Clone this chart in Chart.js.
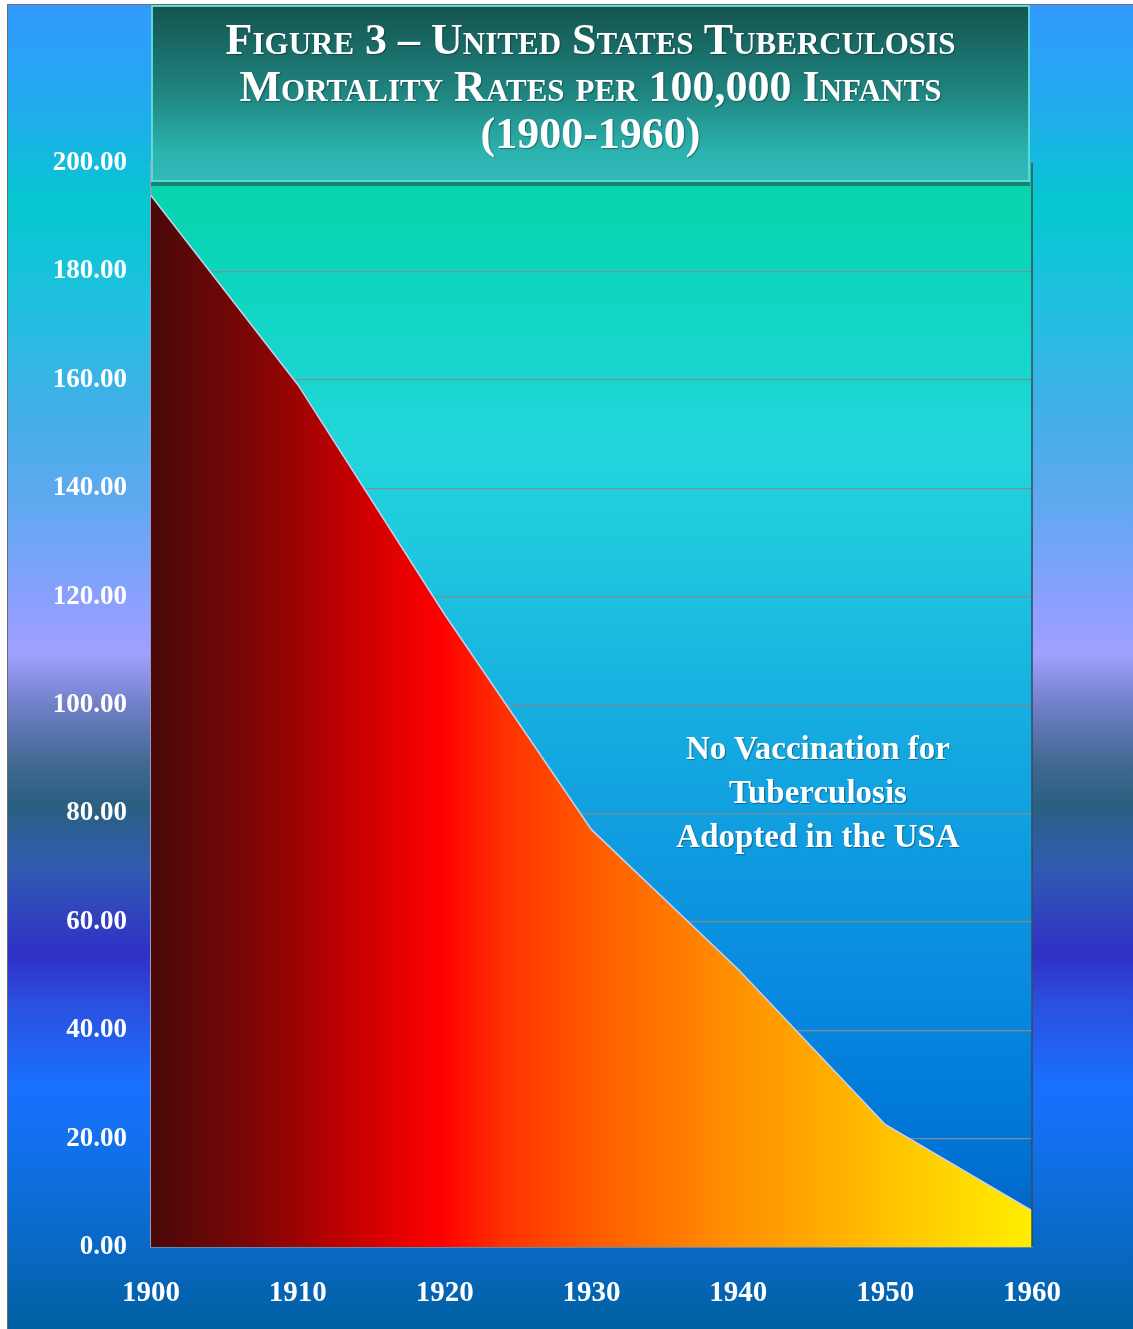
<!DOCTYPE html>
<html>
<head>
<meta charset="utf-8">
<script src="https://cdn.jsdelivr.net/npm/chart.js@4.4.1/dist/chart.umd.min.js"></script>
<style>
    html, body {
        margin: 0;
        padding: 0;
        background: #ffffff;
    }
    #page {
        position: relative;
        width: 1133px;
        height: 1329px;
        overflow: hidden;
    }
    #bg {
        position: absolute;
        left: 7px;
        top: 4px;
        right: 0;
        bottom: 0;
        border-left: 1px solid #707070;
        border-top: 1px solid #707070;
        background: linear-gradient(to bottom,
            #3399ff 0px, #22aaee 100px, #05c8d0 200px, #20c0e0 300px,
            #40b0e8 400px, #60a8f0 500px, #8ca0ff 600px, #a0a0ff 650px,
            #7080c8 700px, #406890 760px, #2a6080 800px, #305cb0 860px,
            #3030c8 950px, #2a50e0 1000px, #1a70ff 1080px, #1070e8 1150px,
            #0868c0 1250px, #0060a0 1325px);
    }
    #chart {
        position: absolute;
        left: 0;
        top: 0;
    }
    #titleBox {
        position: absolute;
        left: 151px;
        top: 5px;
        width: 879px;
        height: 177px;
        border: 2px solid #5cd8d8;
        background: linear-gradient(to bottom, #145450 0%, #1f8580 50%, #2cb4b0 85%, #30bab8 100%);
        box-shadow: 0 4px 0 #168276;
        color: #ffffff;
        font-family: "Liberation Serif", "Times New Roman", serif;
        font-weight: bold;
        font-variant: small-caps;
        font-size: 44px;
        line-height: 47px;
        text-align: center;
        padding-top: 9px;
        box-sizing: border-box;
        text-shadow: 1px 1px 1px rgba(0, 0, 0, 0.35);
    }
    #note {
        position: absolute;
        left: 618px;
        top: 726px;
        width: 400px;
        color: #ffffff;
        font-family: "Liberation Serif", "Times New Roman", serif;
        font-weight: bold;
        font-size: 33px;
        line-height: 44px;
        text-align: center;
        text-shadow: 1px 1px 1px rgba(0, 0, 0, 0.35);
    }
</style>
</head>
<body>
<div id="page">
    <div id="bg"></div>
    <canvas id="chart" width="1133" height="1329"></canvas>
    <div id="titleBox">Figure 3 – United States Tuberculosis<br>Mortality Rates per 100,000 Infants<br>(1900-1960)</div>
    <div id="note">No Vaccination for<br>Tuberculosis<br>Adopted in the USA</div>
</div>
<script>
const years = ["1900", "1910", "1920", "1930", "1940", "1950", "1960"];
const mortalityRates = [194.0, 159.1, 116.7, 77.0, 51.2, 22.6, 6.7];
const yTickValues = [0, 20, 40, 60, 80, 100, 120, 140, 160, 180, 200];

document.addEventListener("DOMContentLoaded", function () {

    const serif = "'Liberation Serif', 'Times New Roman', serif";

    function areaFill(context) {
        const chart = context.chart;
        const area = chart.chartArea;
        if (!area) {
            return "#ff0000";
        }
        const g = chart.ctx.createLinearGradient(area.left, 0, area.right, 0);
        g.addColorStop(0.00, "#4a0808");
        g.addColorStop(0.11, "#7a0606");
        g.addColorStop(0.22, "#c00000");
        g.addColorStop(0.30, "#f00000");
        g.addColorStop(0.33, "#ff0000");
        g.addColorStop(0.40, "#ff3000");
        g.addColorStop(0.50, "#ff5a00");
        g.addColorStop(0.66, "#ff9000");
        g.addColorStop(0.74, "#ffa500");
        g.addColorStop(0.85, "#ffc600");
        g.addColorStop(1.00, "#ffee00");
        return g;
    }

    // plot background + right edge line
    const plotBackground = {
        id: "plotBackground",
        beforeDraw(chart) {
            const {ctx, chartArea: a} = chart;
            const h = a.bottom - a.top;
            const g = ctx.createLinearGradient(0, a.top, 0, a.bottom);
            g.addColorStop(0, "#06d4a8");
            g.addColorStop((270 - 163) / h, "#0cd6bc");
            g.addColorStop((450 - 163) / h, "#22d6dc");
            g.addColorStop((600 - 163) / h, "#1cc0e0");
            g.addColorStop((750 - 163) / h, "#14a8e0");
            g.addColorStop((1000 - 163) / h, "#0888e0");
            g.addColorStop((1120 - 163) / h, "#0078d8");
            g.addColorStop(1, "#0062c4");
            ctx.save();
            ctx.fillStyle = g;
            ctx.fillRect(a.left, a.top, a.right - a.left, h);
            ctx.restore();
        },
        afterDraw(chart) {
            const {ctx, chartArea: a} = chart;
            ctx.save();
            ctx.strokeStyle = "#3a4a5a";
            ctx.lineWidth = 1.5;
            ctx.beginPath();
            ctx.moveTo(a.right, a.top);
            ctx.lineTo(a.right, a.bottom);
            ctx.stroke();
            ctx.restore();
        }
    };

    new Chart(document.getElementById("chart"), {
        type: "line",
        data: {
            labels: years,
            datasets: [{
                data: mortalityRates,
                fill: "origin",
                backgroundColor: areaFill,
                borderColor: "#c8d0f0",
                borderWidth: 1.5,
                pointRadius: 0,
                tension: 0
            }]
        },
        plugins: [plotBackground],
        options: {
            responsive: false,
            animation: false,
            layout: {
                padding: {left: 0, right: 101, top: 163, bottom: 0}
            },
            plugins: {
                legend: {display: false},
                tooltip: {enabled: false}
            },
            scales: {
                x: {
                    offset: false,
                    grid: {drawOnChartArea: false, drawTicks: false},
                    border: {display: true, color: "#a0a0a8", width: 1.5},
                    ticks: {
                        color: "#ffffff",
                        padding: 29,
                        maxRotation: 0,
                        font: {family: serif, size: 29, weight: "bold"}
                    },
                    afterFit(scale) {
                        scale.height = 82;
                    }
                },
                y: {
                    min: 0,
                    max: 200,
                    afterBuildTicks(scale) {
                        scale.ticks = yTickValues.map(v => ({value: v}));
                    },
                    grid: {color: "#7a8e94", lineWidth: 1.2, drawTicks: false},
                    border: {display: true, color: "#9a9ab8", width: 1.5},
                    ticks: {
                        color: "#ffffff",
                        padding: 24,
                        font: {family: serif, size: 27, weight: "bold"},
                        callback: v => Number(v).toFixed(2)
                    },
                    afterFit(scale) {
                        scale.width = 151;
                    }
                }
            }
        }
    });

});
</script>
</body>
</html>
